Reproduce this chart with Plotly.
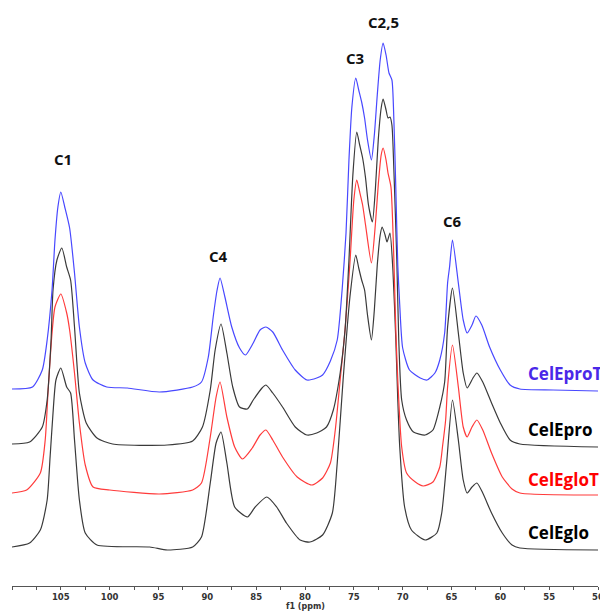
import plotly.graph_objects as go

# ---- data (ppm, intensity above each trace's own baseline) ----
ppm_celeprot = [110.0, 107.9, 106.9, 106.4, 105.9, 105.6, 105.3, 105.0, 104.6, 104.1, 103.6, 103.1, 102.5, 101.7,
                100.3, 98.2, 94.9, 91.5, 90.6, 89.9, 89.4, 89.0, 88.7, 88.2, 87.5, 86.7, 86.1, 85.3, 84.6, 84.0,
                83.3, 82.3, 81.0, 79.8, 78.8, 78.2, 77.4, 76.7, 76.2, 75.8, 75.5, 75.2, 74.8, 74.5, 74.2, 73.9,
                73.6, 73.2, 72.9, 72.6, 72.3, 72.0, 71.7, 71.4, 71.1, 70.9, 70.7, 70.5, 70.3, 70.0, 69.3, 68.2,
                67.5, 66.7, 66.2, 65.7, 65.4, 65.2, 64.9, 64.3, 63.8, 63.4, 62.9, 62.5, 61.9, 61.1, 60.0, 59.0,
                58.0, 54.6, 50.0]
int_celeprot = [0, 2, 19, 49, 99, 149, 182, 197, 182, 161, 116, 62, 26, 9,
                2, 1, -3, 2, 7, 32, 72, 99, 111, 92, 62, 41, 34, 46, 59, 62,
                57, 39, 19, 9, 11, 14, 28, 49, 99, 156, 229, 282, 311, 299, 287, 271,
                249, 229, 254, 294, 329, 346, 334, 316, 309, 269, 200, 124, 84, 41, 19, 11,
                9, 16, 29, 56, 106, 122, 149, 106, 69, 56, 64, 73, 64, 42, 19, 4,
                0, -1, -2]

ppm_celepro = [110.0, 108.2, 106.9, 106.4, 106.0, 105.8, 105.4, 104.9, 104.4, 104.0, 103.6, 103.1, 102.4, 101.3,
               99.7, 94.1, 91.5, 90.5, 89.7, 89.2, 88.6, 88.0, 87.4, 86.7, 85.9, 85.3, 84.4, 84.0, 83.3, 82.3,
               81.0, 79.8, 78.8, 77.8, 77.1, 76.4, 75.9, 75.5, 75.1, 74.7, 74.4, 74.1, 73.8, 73.5, 73.1, 72.8,
               72.5, 72.2, 72.0, 71.7, 71.5, 71.3, 71.1, 70.9, 70.6, 70.4, 70.1, 69.6, 68.9, 67.7, 66.9, 66.2,
               65.7, 65.4, 64.9, 64.3, 63.8, 63.4, 62.8, 62.4, 61.8, 60.9, 60.0, 59.0, 58.0, 50.0]
int_celepro = [0, 2, 17, 44, 104, 154, 184, 196, 177, 164, 117, 51, 21, 6,
               0, -1, 3, 17, 54, 94, 120, 91, 57, 37, 35, 44, 56, 59, 51, 37,
               17, 9, 11, 17, 34, 71, 114, 184, 269, 312, 299, 286, 266, 239, 222, 254,
               304, 336, 345, 334, 326, 327, 319, 274, 184, 104, 44, 24, 12, 9, 14, 37,
               62, 117, 156, 111, 71, 56, 66, 71, 62, 41, 21, 4, 0, -3]

ppm_celeglot = [110.0, 108.5, 107.1, 106.6, 106.3, 105.9, 105.6, 105.0, 104.4, 104.1, 103.6, 103.1, 102.5, 101.7,
                100.0, 94.9, 91.5, 90.6, 89.7, 89.1, 88.7, 88.0, 87.2, 86.4, 85.4, 84.6, 84.0, 83.3, 82.3, 80.8,
                79.3, 78.2, 77.4, 76.9, 76.4, 75.9, 75.4, 75.0, 74.7, 74.4, 74.1, 73.8, 73.2, 72.8, 72.5, 72.2,
                72.0, 71.7, 71.5, 71.2, 70.9, 70.7, 70.5, 70.1, 69.6, 68.7, 67.9, 66.9, 66.2, 65.9, 65.6, 65.4,
                64.9, 64.3, 63.8, 63.4, 62.9, 62.4, 61.8, 60.9, 59.8, 58.8, 58.0, 50.0]
int_celeglot = [0, 3, 20, 53, 103, 160, 186, 199, 180, 163, 120, 70, 28, 6,
                3, -1, 3, 10, 56, 96, 111, 76, 46, 34, 45, 58, 63, 53, 36, 16,
                8, 15, 30, 63, 113, 163, 230, 293, 313, 301, 288, 268, 230, 268, 308, 338,
                345, 333, 320, 306, 233, 163, 113, 46, 20, 11, 7, 11, 26, 48, 73, 106,
                148, 106, 66, 56, 66, 73, 63, 40, 16, 4, 0, -2]

ppm_celeglo = [110.0, 108.2, 107.1, 106.4, 106.1, 105.8, 105.5, 105.0, 104.4, 104.0, 103.6, 103.1, 102.5, 101.3,
               95.9, 94.1, 91.5, 90.6, 89.7, 89.1, 88.6, 88.0, 87.2, 85.9, 85.1, 83.9, 82.9, 81.9, 80.5, 79.5,
               78.2, 77.2, 76.7, 76.1, 75.4, 74.8, 74.5, 74.2, 73.9, 73.6, 73.2, 72.9, 72.6, 72.3, 72.1, 71.8,
               71.6, 71.3, 71.0, 70.7, 70.5, 70.3, 69.8, 69.1, 67.7, 66.5, 66.0, 65.5, 64.9, 64.3, 63.8, 63.4,
               62.9, 62.4, 61.8, 60.9, 59.8, 58.8, 58.0, 50.0]
int_celeglo = [0, 4, 17, 47, 90, 134, 167, 179, 160, 154, 107, 47, 14, 2,
               0, -3, 0, 10, 64, 104, 115, 84, 40, 30, 40, 50, 40, 24, 7, 5,
               12, 34, 84, 167, 250, 292, 279, 267, 257, 232, 207, 237, 282, 312, 320, 312,
               305, 314, 277, 207, 147, 100, 40, 17, 7, 14, 34, 84, 147, 107, 67, 54,
               60, 64, 54, 34, 14, 2, -1, -3]

sample_names = ["CelEglo", "CelEgloT", "CelEpro", "CelEproT"]
peak_labels = ["C1", "C4", "C3", "C2,5", "C6"]
peak_ppm = [104.8, 88.9, 74.9, 72.0, 64.9]
x_ticks = [105, 100, 95, 90, 85, 80, 75, 70, 65, 60, 55, 50]

# ---- presentation ----
offsets = [39, 93, 142, 197]
line_colors = ["#3a3a3a", "#ff3b3b", "#3a3a3a", "#4848ff"]
text_colors = ["#000000", "#ff0000", "#000000", "#4a28e8"]
label_y = [54, 107, 157, 213]
peak_label_y = [427, 330, 528, 564, 365]

series = [(ppm_celeglo, int_celeglo), (ppm_celeglot, int_celeglot),
          (ppm_celepro, int_celepro), (ppm_celeprot, int_celeprot)]

fig = go.Figure()
for (px, iy), off, col, name in zip(series, offsets, line_colors, sample_names):
    fig.add_trace(go.Scatter(x=px, y=[v + off for v in iy], mode="lines", name=name,
                             line=dict(color=col, width=1.2, shape="spline", smoothing=0.6),
                             showlegend=False, hoverinfo="skip"))

for name, ly, tc in zip(sample_names, label_y, text_colors):
    fig.add_annotation(x=57.4, y=ly, text=f"<b>{name}</b>", showarrow=False, xanchor="left",
                       yanchor="middle", font=dict(family="Open Sans", size=17, color=tc))

for lab, px, py in zip(peak_labels, peak_ppm, peak_label_y):
    fig.add_annotation(x=px, y=py, text=f"<b>{lab}</b>", showarrow=False, xanchor="center",
                       yanchor="middle", font=dict(family="Open Sans", size=15, color="#111111"))

fig.add_annotation(x=80, y=0, yref="paper", yshift=-20, text="<b>f1 (ppm)</b>", showarrow=False,
                   xanchor="center", yanchor="middle",
                   font=dict(family="DejaVu Sans", size=8, color="#333333"))

# page body has an 8px default margin: size the figure so the plot lands where the reference has it
fig.update_layout(
    width=600, height=603,
    margin=dict(l=4, r=10, t=0, b=25),
    paper_bgcolor="white", plot_bgcolor="white",
    xaxis=dict(range=[110, 50], showgrid=False, zeroline=False, showline=True,
               linecolor="#555555", linewidth=1, ticks="outside", ticklen=3, tickcolor="#555555",
               tickvals=x_ticks, ticktext=[f"<b>{t}</b>" for t in x_ticks],
               tickfont=dict(family="DejaVu Sans", size=8.5, color="#333333"),
               minor=dict(dtick=2.5, tick0=50, ticks="outside", ticklen=3, tickcolor="#555555")),
    yaxis=dict(range=[0, 578], visible=False, fixedrange=True),
)

fig.write_html("out.html")
